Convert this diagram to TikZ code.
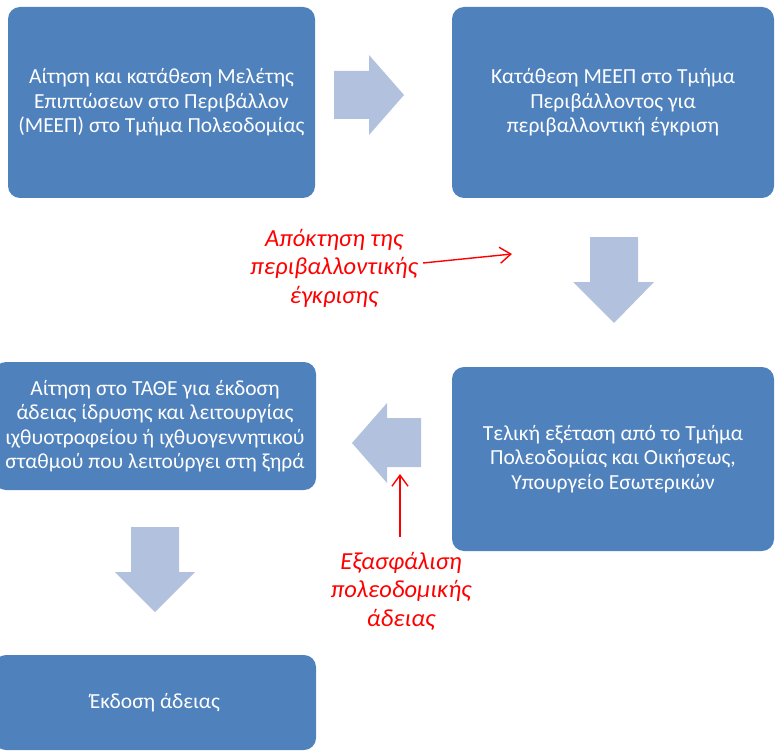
\documentclass[tikz,border=0pt]{standalone}
\usepackage{fontspec}
\setmainfont{Carlito}
\usetikzlibrary{arrows.meta}
\definecolor{boxblue}{RGB}{79,129,189}
\definecolor{arrowblue}{RGB}{178,194,222}
\definecolor{notered}{RGB}{255,0,0}
\tikzset{
  box/.style={fill=boxblue, rounded corners=12pt, text=white, align=center,
    font=\fontsize{21.5}{24.5}\selectfont, inner sep=0pt},
  note/.style={text=notered, align=center, font=\fontsize{24.5}{28.5}\selectfont\itshape, inner sep=0pt},
  redarrow/.style={draw=notered, line width=1.4pt, -{Straight Barb[length=11pt,width=16pt,line width=1.4pt]}},
  blockarrow/.style={fill=arrowblue}
}
\begin{document}
\begin{tikzpicture}[x=1pt,y=-1pt]
\useasboundingbox (0,0) rectangle (775,751);
% boxes
\node[box, minimum width=307pt, minimum height=191pt] (b1) at (161.5,102.5)
  {Αίτηση και κατάθεση Μελέτης\\Επιπτώσεων στο Περιβάλλον\\(ΜΕΕΠ) στο Τμήμα Πολεοδομίας};
\node[box, minimum width=322pt, minimum height=191pt] (b2) at (613,102.5)
  {Κατάθεση ΜΕΕΠ στο Τμήμα\\Περιβάλλοντος για\\περιβαλλοντική έγκριση};
\node[box, minimum width=322pt, minimum height=184pt] (b3) at (613,459)
  {Τελική εξέταση από το Τμήμα\\Πολεοδομίας και Οικήσεως,\\Υπουργείο Εσωτερικών};
\node[box, minimum width=322pt, minimum height=128pt] (b4) at (155,426)
  {Αίτηση στο ΤΑΘΕ για έκδοση\\άδειας ίδρυσης και λειτουργίας\\ιχθυοτροφείου ή ιχθυογεννητικού\\σταθμού που λειτούργει στη ξηρά};
\node[box, minimum width=322pt, minimum height=95pt] (b5) at (155,702.5)
  {Έκδοση άδειας};
% block arrows
\fill[blockarrow] (334,71) -- (369,71) -- (369,55) -- (404,95) -- (369,135) -- (369,119) -- (334,119) -- cycle;
\fill[blockarrow] (590,237) -- (638,237) -- (638,282) -- (654,282) -- (614,323) -- (573,282) -- (590,282) -- cycle;
\fill[blockarrow] (421,418) -- (387,418) -- (387,403) -- (352,443) -- (387,483) -- (387,467) -- (421,467) -- cycle;
\fill[blockarrow] (131,527) -- (179,527) -- (179,572) -- (195,572) -- (155,612) -- (115,572) -- (131,572) -- cycle;
% notes
\node[note] (n1) at (334,268) {Απόκτηση της\\περιβαλλοντικής\\έγκρισης};
\node[note] (n2) at (401,591) {Εξασφάλιση\\πολεοδομικής\\άδειας};
\coordinate (a1s) at (423,263);
\coordinate (a1e) at (512,254);
\coordinate (a2s) at (400,537);
\coordinate (a2e) at (400,474);
\draw[redarrow] (a1s) -- (a1e);
\draw[redarrow] (a2s) -- (a2e);
\end{tikzpicture}
\end{document}
